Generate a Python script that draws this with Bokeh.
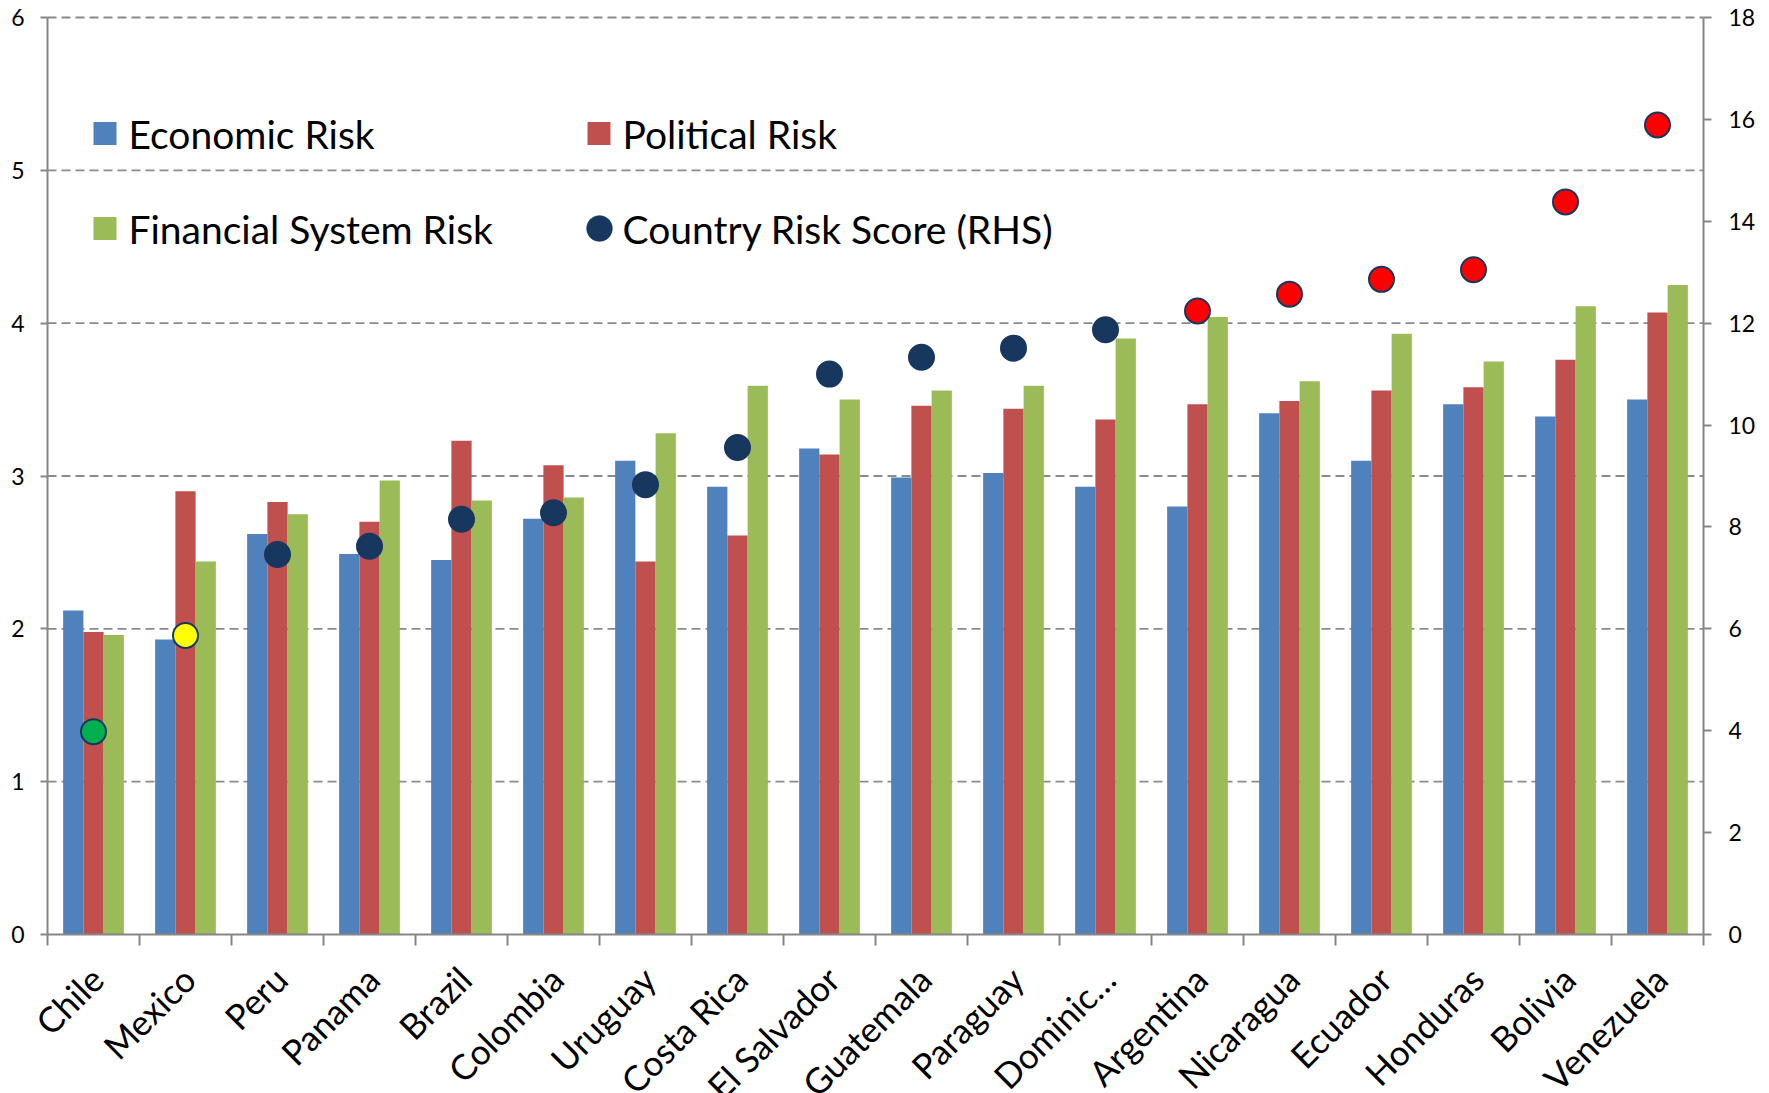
import math

from bokeh.core.properties import value
from bokeh.embed import file_html
from bokeh.models import (BoxAnnotation, ColumnDataSource, FixedTicker, Label,
                          LabelSet, LinearAxis, Range1d)
from bokeh.plotting import figure
from bokeh.resources import INLINE

# ---- data -------------------------------------------------------------
countries = ["Chile", "Mexico", "Peru", "Panama", "Brazil", "Colombia",
             "Uruguay", "Costa Rica", "El Salvador", "Guatemala", "Paraguay",
             "Dominic…", "Argentina", "Nicaragua", "Ecuador", "Honduras",
             "Bolivia", "Venezuela"]
economic_risk = [2.12, 1.93, 2.62, 2.49, 2.45, 2.72, 3.10, 2.93, 3.18, 2.99,
                 3.02, 2.93, 2.80, 3.41, 3.10, 3.47, 3.39, 3.50]
political_risk = [1.98, 2.90, 2.83, 2.70, 3.23, 3.07, 2.44, 2.61, 3.14, 3.46,
                  3.44, 3.37, 3.47, 3.49, 3.56, 3.58, 3.76, 4.07]
financial_risk = [1.96, 2.44, 2.75, 2.97, 2.84, 2.86, 3.28, 3.59, 3.50, 3.56,
                  3.59, 3.90, 4.04, 3.62, 3.93, 3.75, 4.11, 4.25]
country_risk_score = [3.98, 5.87, 7.46, 7.62, 8.15, 8.28, 8.83, 9.56, 11.00,
                      11.33, 11.51, 11.87, 12.24, 12.57, 12.86, 13.05, 14.38,
                      15.89]
score_band = ["low", "moderate"] + ["elevated"] * 10 + ["high"] * 6

left_ticks = [0, 1, 2, 3, 4, 5, 6]
right_ticks = [0, 2, 4, 6, 8, 10, 12, 14, 16, 18]

# ---- styling ------------------------------------------------------------
BLUE, RED, GREEN = "#4F81BD", "#C0504D", "#9BBB59"
NAVY = "#17375E"
BAND_COLORS = {"low": "#00B050", "moderate": "#FFFF00",
               "elevated": NAVY, "high": "#FF0000"}
AXIS_GREY = "#868686"
GRID_GREY = "#8A8A8A"
FONT = "Lato"

W, H = 1769, 1093
LEFT, RIGHT, TOP = 47, 66, 17   # room around the plotted area for the axes
BELOW_ZERO = 159                # room under the zero line for the names
Y_MAX, RHS_MAX = 6, 18

n = len(countries)
px_per_unit = (H - TOP - BELOW_ZERO) / Y_MAX
px_per_group = (W - LEFT - RIGHT) / n
y_min = -BELOW_ZERO / px_per_unit
y_top = Y_MAX + TOP / px_per_unit
rhs_scale = RHS_MAX / Y_MAX

centers = [i + 0.5 for i in range(n)]
bar_w = 0.22

# the frame covers the whole canvas; the axes are pinned to the data edges so
# the rotated names may run past the value axes like in a spreadsheet chart
p = figure(width=W, height=H, output_backend="svg", toolbar_location=None,
           x_range=Range1d(-LEFT / px_per_group, n + RIGHT / px_per_group),
           y_range=Range1d(y_min, y_top),
           x_axis_location=None, y_axis_location=None,
           min_border_left=0, min_border_right=0,
           min_border_top=0, min_border_bottom=0,
           background_fill_color="white", border_fill_color="white")
p.outline_line_color = None
p.grid.visible = False
p.extra_y_ranges = {"rhs": Range1d(y_min * rhs_scale, y_top * rhs_scale)}

src = ColumnDataSource(dict(
    x=centers, country=countries, econ=economic_risk, pol=political_risk,
    fin=financial_risk, score=country_risk_score,
    dot=[BAND_COLORS[b] for b in score_band],
    x_econ=[c - bar_w for c in centers], x_fin=[c + bar_w for c in centers],
))

# ---- dashed value grid between the two axes ---------------------------------
grid_levels = left_ticks[1:]
p.segment(x0=[0] * len(grid_levels), x1=[n] * len(grid_levels),
          y0=grid_levels, y1=grid_levels, line_color=GRID_GREY,
          line_dash="9 5", line_width=1.8)

# ---- axes -------------------------------------------------------------------
def style_axis(ax):
    ax.axis_line_color = AXIS_GREY
    ax.axis_line_width = 2
    ax.major_tick_line_color = AXIS_GREY
    ax.major_tick_line_width = 2
    ax.minor_tick_line_color = AXIS_GREY
    ax.minor_tick_line_width = 2
    ax.major_label_text_font = FONT
    ax.major_label_text_font_size = "23px"
    ax.major_label_text_color = "black"

ly = LinearAxis(fixed_location=0, ticker=FixedTicker(ticks=left_ticks),
                bounds=(0, Y_MAX))
style_axis(ly)
ly.major_tick_out = 7
ly.major_tick_in = 0
ly.major_label_standoff = 16
p.add_layout(ly, "left")

ry = LinearAxis(fixed_location=n, y_range_name="rhs",
                ticker=FixedTicker(ticks=right_ticks), bounds=(0, RHS_MAX))
style_axis(ry)
ry.major_tick_out = 8
ry.major_tick_in = 0
ry.major_label_standoff = 17
p.add_layout(ry, "right")

# category axis on the zero line: separator marks between the groups
bx = LinearAxis(fixed_location=0, bounds=(0, n),
                ticker=FixedTicker(ticks=[], minor_ticks=list(range(n + 1))))
style_axis(bx)
bx.major_tick_out = 0
bx.major_tick_in = 0
bx.minor_tick_out = 11
bx.minor_tick_in = 0
p.add_layout(bx, "below")

# ---- bars & markers ---------------------------------------------------------
p.vbar(x="x_econ", top="econ", width=bar_w, bottom=0, source=src,
       fill_color=BLUE, line_color=None)
p.vbar(x="x", top="pol", width=bar_w, bottom=0, source=src,
       fill_color=RED, line_color=None)
p.vbar(x="x_fin", top="fin", width=bar_w, bottom=0, source=src,
       fill_color=GREEN, line_color=None)
p.scatter(x="x", y="score", y_range_name="rhs", source=src, size=25,
          fill_color="dot", line_color=NAVY, line_width=2)

# ---- rotated country names under each group ---------------------------------
NAME_DROP = 38              # px from the zero line to the end of each name
p.add_layout(LabelSet(
    x="x", y=-NAME_DROP / px_per_unit, source=src, text="country",
    x_offset=3, angle=math.pi / 4, text_align="right",
    text_baseline="middle", text_font=value(FONT),
    text_font_size=value("35px"), text_color="black"))

# ---- legend (two columns) -------------------------------------------------
SW = 23           # swatch size
DOT = 26          # legend dot diameter
ROW1, ROW2 = 133, 228          # row centres from the top of the canvas
COL1, COL2 = 93, 587           # swatch left edges from the canvas's left
TXT_GAP = 12

def row_y(row_top):
    return H - row_top

legend_entries = [
    ("Economic Risk", BLUE, COL1, ROW1, False),
    ("Political Risk", RED, COL2, ROW1, False),
    ("Financial System Risk", GREEN, COL1, ROW2, False),
    ("Country Risk Score (RHS)", NAVY, COL2 - 1, ROW2, True),
]
for text, color, col, row, round_marker in legend_entries:
    yc = row_y(row)
    size = DOT if round_marker else SW
    p.add_layout(BoxAnnotation(
        left=col, right=col + size, bottom=yc - size / 2, top=yc + size / 2,
        left_units="screen", right_units="screen",
        bottom_units="screen", top_units="screen",
        fill_color=color, fill_alpha=1.0,
        line_color=NAVY if round_marker else None, line_width=1,
        border_radius=DOT // 2 if round_marker else 0, level="overlay"))
    p.add_layout(Label(
        x=col + SW + TXT_GAP + (1 if round_marker else 0),
        y=yc, x_units="screen", y_units="screen", text=text,
        text_font=FONT, text_font_size="39px", text_color="black",
        text_baseline="middle", text_align="left"))

open("out.html", "w").write(file_html(p, INLINE))
